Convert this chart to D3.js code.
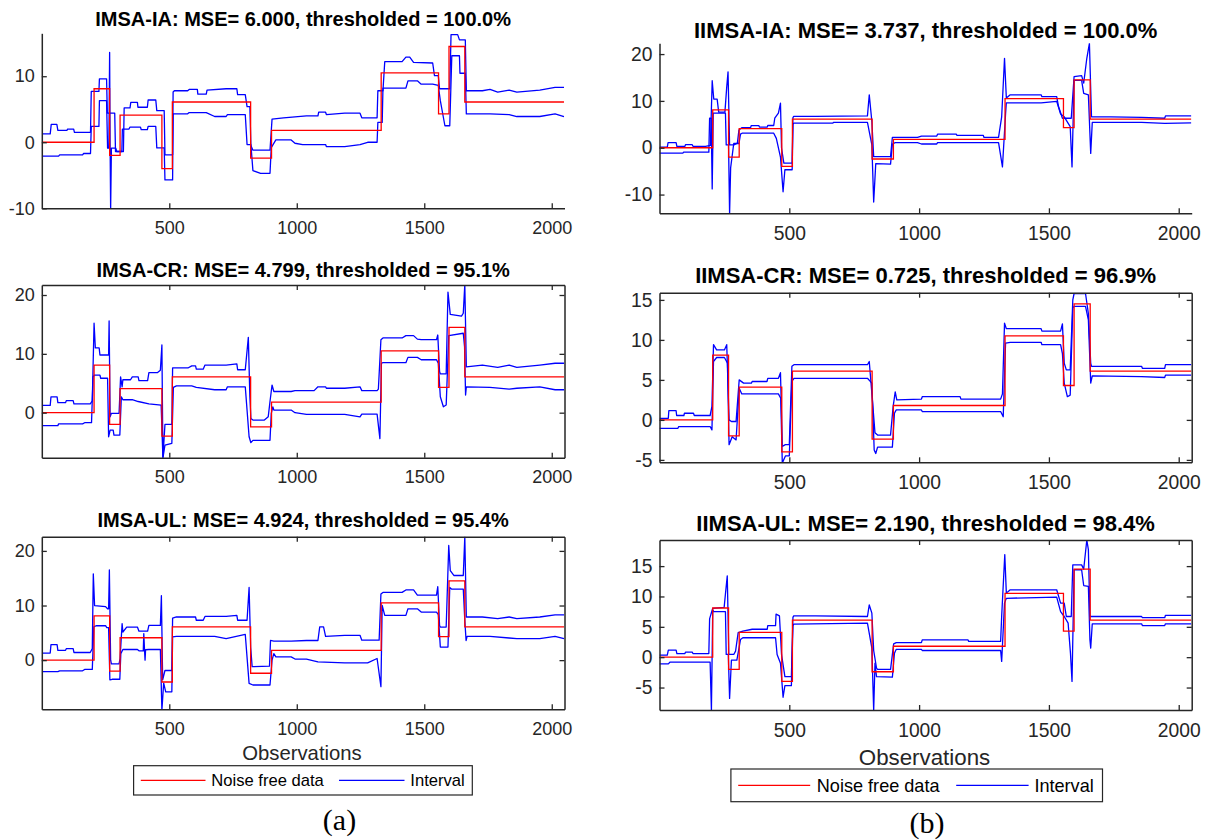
<!DOCTYPE html>
<html lang="en">
<head>
<meta charset="UTF-8">
<title>IMSA / IIMSA interval estimates</title>
<style>
html,body{margin:0;width:1207px;height:840px;overflow:hidden;background:#fff;}
svg{display:block;font-family:"Liberation Sans",Arial,Helvetica,sans-serif;}
</style>
</head>
<body>
<svg width="1207" height="840"></svg>
<script src="https://d3js.org/d3.v7.min.js"></script>
<script>
// ---- data ----
const obsTicks=[500,1000,1500,2000];
const obsRange=[0,2050];

// noise free blocks signal: start of each level and its value
const stepStarts=[0,205,266,307,471,512,819,901,1331,1556,1597,1659];
const stepLevels=[0,8.1,-2.0,4.1,-4.0,6.1,-2.4,1.8,10.5,4.3,14.5,6.1];
const stepEnd=2048;

const titles=[
  "IMSA-IA: MSE= 6.000, thresholded = 100.0%",
  "IMSA-CR: MSE= 4.799, thresholded = 95.1%",
  "IMSA-UL: MSE= 4.924, thresholded = 95.4%",
  "IIMSA-IA: MSE= 3.737, thresholded = 100.0%",
  "IIMSA-CR: MSE= 0.725, thresholded = 96.9%",
  "IIMSA-UL: MSE= 2.190, thresholded = 98.4%"
];
const yLimits=[[-10,16.5],[-7.65,21.7],[-9,22.6],[-14,22.3],[-5.3,15.9],[-8.7,19.3]];
const yTickSets=[[-10,0,10],[0,10,20],[0,10,20],[-10,0,10,20],[-5,0,5,10,15],[-5,0,5,10,15]];
const legendLabels=["Noise free data","Interval"];
const panelLabels=["(a)","(b)"];

// interval bounds, [observation, value]
const imsaIA_upper=[[0,1.26],[33,1.26],[37,2.7],[59,2.7],[63,1.8],[99,1.8],[101,2.0],[125,2.0],[128,1.5],[191,1.5],[194,7.7],[224,7.7],[226,9.6],[254,9.6],[257,4.4],[286,4.4],[289,-1.4],[320,-1.4],[323,5.2],[346,5.2],[349,6.05],[375,6.05],[377,5.3],[414,5.3],[417,6.4],[447,6.4],[451,4.8],[480,4.8],[483,-1.9],[513,-1.9],[515,7.6],[520,7.8],[572,7.8],[578,8.0],[610,8.0],[612,7.3],[645,7.3],[648,7.9],[723,8.1],[765,8.1],[768,7.2],[798,7.2],[805,5.4],[816,5.4],[820,-0.5],[828,-1.2],[895,-1.2],[903,3.5],[948,3.7],[1038,4.0],[1083,4.0],[1086,4.55],[1113,4.55],[1116,4.2],[1188,4.4],[1248,4.4],[1255,3.7],[1315,3.7],[1318,7.8],[1338,7.8],[1345,12.2],[1413,12.2],[1428,12.9],[1443,12.9],[1458,12.1],[1533,12.0],[1540,10.1],[1555,10.1],[1560,8.1],[1600,8.1],[1605,16.3],[1631,16.3],[1638,15.5],[1661,15.5],[1665,7.8],[1728,7.8],[1758,8.0],[1788,7.6],[1833,7.9],[1863,7.6],[1953,7.9],[2013,8.3],[2048,8.3]];
const imsaIA_lower=[[0,-2.1],[66,-2.1],[70,-1.9],[160,-1.9],[164,-1.7],[191,-1.7],[194,2.4],[224,2.4],[226,6.3],[254,6.3],[258,-0.9],[263,-0.9],[266,13.6],[268,-0.9],[270,-10.2],[273,-0.9],[290,-0.9],[294,-1.4],[314,-1.4],[316,2.0],[342,2.0],[346,2.3],[387,2.3],[390,1.9],[414,1.9],[417,2.4],[447,2.4],[451,-0.86],[480,-0.86],[483,-5.7],[513,-5.7],[515,4.3],[572,4.3],[578,4.5],[645,4.5],[678,3.9],[723,3.9],[728,4.2],[798,4.2],[805,-0.35],[820,-0.35],[828,-4.3],[858,-4.7],[895,-4.7],[900,-0.8],[918,0.35],[978,0.35],[993,-0.15],[1023,-0.35],[1113,-0.35],[1116,-0.65],[1188,-0.65],[1248,-0.35],[1278,0.0],[1315,0.0],[1318,3.0],[1335,3.0],[1338,8.2],[1428,8.2],[1436,9.3],[1473,9.3],[1488,8.8],[1533,8.8],[1555,8.6],[1563,6.3],[1581,2.5],[1600,2.5],[1608,13.1],[1638,13.1],[1640,10.45],[1661,10.45],[1665,4.3],[1758,4.3],[1833,4.2],[1863,3.9],[1953,3.9],[2013,4.3],[2048,3.9]];

const imsaCR_upper=[[0,1.25],[33,1.25],[36,2.7],[60,2.7],[63,1.7],[93,1.7],[96,2.05],[123,2.05],[126,1.5],[190,1.5],[198,2.0],[205,15.2],[210,11.0],[225,11.0],[228,9.8],[262,9.8],[264,15.6],[268,-0.7],[273,-0.1],[303,-0.1],[309,6.1],[315,4.4],[318,5.6],[348,5.6],[355,6.1],[378,6.1],[381,5.45],[415,5.45],[420,6.8],[453,6.8],[465,7.2],[471,11.5],[475,-7.7],[483,-2.0],[510,-2.0],[513,7.6],[573,7.6],[588,7.95],[603,7.95],[606,7.4],[633,7.4],[640,8.1],[723,8.1],[765,8.3],[768,7.3],[798,7.3],[810,12.8],[816,2.7],[820,-1.0],[828,-1.25],[873,-1.25],[888,-0.7],[895,1.9],[903,4.7],[910,3.6],[978,3.6],[993,3.75],[1068,3.75],[1083,4.4],[1113,4.4],[1116,4.15],[1188,4.15],[1248,4.4],[1255,3.75],[1315,3.75],[1320,4.0],[1330,12.4],[1338,12.7],[1413,12.7],[1428,13.1],[1458,13.1],[1473,12.5],[1488,12.4],[1548,12.4],[1553,13.2],[1560,7.0],[1563,6.6],[1586,6.6],[1593,20.5],[1602,16.7],[1646,16.4],[1653,16.9],[1659,21.8],[1665,7.8],[1728,8.1],[1788,7.7],[1833,8.1],[1863,7.7],[1953,8.1],[2013,8.4],[2048,8.4]];
const imsaCR_lower=[[0,-2.2],[63,-2.2],[66,-1.9],[160,-1.9],[168,-1.7],[195,-1.7],[201,6.1],[207,6.4],[228,6.4],[231,5.85],[258,5.85],[262,-4.1],[268,-2.95],[280,-2.95],[283,-3.8],[306,-3.8],[312,2.7],[318,2.2],[355,2.2],[378,1.9],[420,1.5],[468,1.3],[475,-7.7],[483,-5.5],[510,-5.2],[516,4.3],[528,4.55],[588,4.55],[606,4.3],[678,3.9],[723,3.9],[728,4.4],[798,4.4],[813,-4.1],[820,-5.1],[828,-4.7],[895,-4.7],[900,-0.1],[906,1.0],[910,0.45],[978,0.45],[993,0.0],[1038,-0.3],[1188,-0.3],[1248,-0.7],[1255,-0.25],[1315,-0.25],[1326,-4.4],[1332,8.4],[1338,8.5],[1428,8.5],[1436,9.4],[1473,9.4],[1488,9.0],[1548,9.0],[1555,8.4],[1563,2.7],[1575,1.0],[1586,1.3],[1596,13.1],[1653,13.5],[1658,11.2],[1662,3.0],[1665,4.4],[1758,4.3],[1833,4.0],[1863,4.15],[1953,4.4],[2013,3.9],[2048,3.9]];

const imsaUL_upper=[[0,1.3],[33,1.3],[36,2.85],[60,2.85],[63,1.8],[93,1.8],[96,2.1],[123,2.1],[126,1.4],[190,1.4],[198,2.1],[202,15.8],[207,10.0],[250,9.8],[258,9.4],[262,9.4],[265,16.5],[270,0.0],[273,-0.7],[303,-0.7],[307,0.3],[315,6.7],[318,5.15],[333,6.05],[375,6.05],[381,5.3],[415,5.3],[420,6.35],[465,6.35],[469,11.8],[474,-3.6],[483,-1.9],[510,-1.9],[513,7.7],[528,7.9],[603,7.9],[606,7.3],[633,7.3],[640,8.0],[723,8.0],[765,8.2],[768,7.3],[805,7.3],[813,13.3],[819,2.4],[825,-1.2],[893,-1.1],[897,3.6],[910,3.5],[978,3.5],[1038,3.6],[1083,3.6],[1090,6.1],[1105,6.1],[1113,4.35],[1188,4.55],[1248,4.55],[1255,3.65],[1323,3.65],[1330,12.1],[1338,12.4],[1413,12.4],[1428,12.85],[1458,12.85],[1473,11.9],[1548,11.9],[1553,13.45],[1560,6.35],[1563,6.05],[1586,6.05],[1596,21.0],[1602,16.4],[1616,15.5],[1653,15.5],[1659,22.6],[1665,7.9],[1728,7.9],[1788,7.6],[1833,7.9],[1863,7.6],[1953,7.9],[2013,8.3],[2048,8.3]];
const imsaUL_lower=[[0,-2.1],[63,-2.1],[70,-1.95],[160,-1.95],[168,-1.7],[198,-1.7],[204,6.1],[213,6.3],[250,6.3],[255,5.95],[262,5.95],[267,-3.6],[276,-3.5],[306,-3.5],[310,1.2],[318,1.95],[375,1.95],[381,1.7],[398,1.7],[400,4.85],[403,1.7],[405,0.0],[407,1.9],[420,1.95],[465,1.95],[471,-9.2],[478,-4.2],[486,-5.8],[510,-5.8],[513,4.25],[528,4.35],[678,4.35],[723,3.95],[798,4.7],[813,-4.25],[828,-4.55],[895,-4.55],[903,0.0],[910,1.2],[918,0.6],[978,0.6],[993,0.2],[1038,0.2],[1083,-0.3],[1188,-0.5],[1278,-0.5],[1315,0.3],[1330,-4.85],[1335,10.0],[1345,8.2],[1428,8.2],[1436,9.4],[1473,9.4],[1488,8.8],[1548,8.8],[1555,8.35],[1563,2.4],[1593,2.4],[1600,13.3],[1608,13.0],[1653,13.0],[1659,7.3],[1664,3.6],[1668,4.35],[1758,4.35],[1833,4.05],[1863,3.95],[1953,3.95],[2013,4.35],[2048,3.95]];

const iimsaIA_upper=[[0,0.15],[30,0.15],[33,1.1],[64,1.1],[67,0.3],[98,0.3],[100,0.65],[126,0.65],[129,0.3],[177,0.3],[196,0.5],[203,14.3],[209,10.4],[222,10.4],[228,7.6],[252,7.6],[259,13.0],[264,16.2],[270,0.6],[286,0.6],[300,1.0],[306,3.8],[318,4.3],[351,4.3],[353,4.7],[383,4.7],[385,4.4],[415,4.4],[417,4.75],[440,4.75],[444,6.3],[458,7.4],[466,9.5],[470,0.0],[479,-3.3],[511,-3.3],[514,6.45],[517,6.7],[601,6.7],[801,6.8],[808,11.3],[818,5.6],[825,-1.9],[890,-1.9],[897,2.2],[994,2.2],[1009,2.5],[1068,2.5],[1071,2.9],[1143,2.9],[1146,2.65],[1247,2.65],[1250,2.2],[1306,2.2],[1318,6.6],[1329,19.1],[1336,10.6],[1351,11.3],[1470,11.3],[1473,10.9],[1530,10.9],[1537,8.8],[1552,6.3],[1586,6.3],[1597,15.2],[1626,15.4],[1634,13.8],[1646,19.1],[1656,22.3],[1664,6.6],[1738,6.6],[1857,6.5],[1946,6.3],[1949,6.8],[2048,6.8]];
const iimsaIA_lower=[[0,-1.15],[90,-1.15],[93,-0.95],[190,-0.95],[193,6.3],[199,6.3],[203,-8.8],[207,7.4],[254,7.4],[257,0.6],[266,0.6],[270,-14.1],[274,-4.3],[286,0.9],[306,0.9],[312,2.9],[318,3.1],[440,3.1],[450,2.0],[466,-2.0],[476,-9.4],[483,-4.7],[511,-4.7],[514,5.0],[517,5.25],[667,5.25],[670,5.4],[801,5.4],[818,0.6],[825,-11.6],[833,-3.4],[890,-3.5],[897,0.8],[908,1.1],[994,1.1],[1009,0.8],[1068,0.8],[1071,1.1],[1306,1.1],[1321,-4.1],[1333,7.2],[1336,9.6],[1470,9.6],[1530,9.9],[1545,7.2],[1559,6.6],[1582,4.5],[1589,-4.1],[1597,14.4],[1626,14.4],[1634,11.6],[1652,11.3],[1661,-1.2],[1667,5.4],[1857,5.4],[1946,5.2],[2048,5.3]];

const iimsaCR_upper=[[0,0.2],[34,0.2],[36,1.15],[64,1.15],[66,0.55],[94,0.55],[96,0.83],[131,0.83],[134,0.55],[195,0.55],[202,1.7],[208,9.4],[220,8.75],[250,8.75],[259,9.4],[268,0.0],[277,-0.2],[295,-0.2],[307,5.0],[324,4.6],[354,4.6],[357,4.8],[414,4.8],[417,5.2],[458,5.2],[466,5.9],[473,-3.3],[485,-3.1],[500,-3.1],[510,6.7],[518,6.9],[801,6.9],[808,7.3],[821,2.1],[830,-1.6],[840,-1.9],[890,-1.9],[900,1.7],[908,3.5],[914,2.5],[1009,2.6],[1012,2.9],[1158,2.9],[1161,2.6],[1314,2.6],[1321,3.25],[1329,12.1],[1336,11.4],[1470,11.4],[1473,11.1],[1545,11.1],[1552,12.0],[1559,7.1],[1567,6.25],[1582,6.25],[1592,15.0],[1597,15.8],[1641,15.8],[1652,13.3],[1661,7.1],[1664,6.7],[1857,6.7],[1860,6.45],[1946,6.45],[1949,6.9],[2048,6.9]];
const iimsaCR_lower=[[0,-1.05],[71,-1.05],[74,-0.83],[195,-0.83],[202,-1.25],[208,7.3],[220,7.8],[250,7.8],[262,7.1],[268,-3.1],[280,-2.1],[295,-2.5],[307,3.95],[317,3.25],[458,3.25],[467,2.7],[473,-5.4],[485,-4.5],[500,-4.5],[510,4.8],[518,5.2],[801,5.2],[818,4.6],[827,-3.75],[833,-4.2],[840,-3.4],[897,-3.4],[905,0.83],[912,1.25],[1009,1.25],[1012,1.04],[1314,1.04],[1324,0.4],[1333,9.6],[1351,9.7],[1470,9.7],[1473,9.4],[1545,9.4],[1552,8.3],[1559,4.6],[1571,2.9],[1582,3.1],[1592,14.0],[1597,14.2],[1641,14.2],[1652,12.5],[1661,4.6],[1667,5.5],[1857,5.4],[1946,5.3],[1949,5.6],[2048,5.6]];

const iimsaUL_upper=[[0,0.33],[30,0.33],[34,1.17],[64,1.17],[67,0.6],[98,0.6],[100,0.83],[126,0.83],[129,0.6],[190,0.6],[193,6.3],[205,8.05],[249,8.2],[254,10.4],[261,13.4],[267,0.45],[286,0.45],[293,1.0],[303,4.05],[321,4.3],[357,4.6],[415,4.6],[417,5.2],[447,5.2],[449,7.1],[462,6.8],[470,0.45],[483,-3.2],[508,-3.2],[514,6.55],[517,6.8],[601,6.8],[801,6.7],[808,8.6],[818,7.25],[825,1.1],[836,-1.8],[840,-2.0],[890,-2.0],[902,2.2],[912,2.4],[1009,2.4],[1012,2.86],[1188,2.86],[1191,2.6],[1314,2.6],[1318,6.7],[1330,16.9],[1336,10.55],[1351,11.1],[1530,11.1],[1545,8.9],[1559,8.9],[1567,6.7],[1586,6.7],[1592,15.2],[1626,15.2],[1634,14.5],[1646,19.3],[1652,17.7],[1658,6.7],[1857,6.7],[1860,6.5],[1946,6.5],[1949,6.9],[2048,6.9]];
const iimsaUL_lower=[[0,-1.1],[34,-1.1],[40,-0.83],[195,-0.83],[200,-8.8],[205,7.8],[209,7.5],[254,7.5],[257,0.45],[265,0.45],[270,-6.8],[277,-0.5],[298,-0.5],[312,2.9],[321,3.2],[447,3.2],[453,0.45],[466,-1.0],[476,-6.6],[483,-4.7],[508,-4.7],[514,5.2],[517,5.45],[801,5.6],[818,1.5],[825,-8.8],[830,-1.0],[836,-3.2],[897,-3.3],[905,0.66],[912,1.3],[1009,1.3],[1012,1.1],[1314,1.1],[1318,-0.7],[1329,8.9],[1336,9.7],[1530,9.9],[1545,7.5],[1559,6.7],[1574,5.6],[1583,0.66],[1589,-4.0],[1597,14.4],[1626,14.4],[1634,11.8],[1652,11.65],[1658,2.9],[1661,1.5],[1667,5.5],[1857,5.5],[1860,5.2],[1946,5.2],[1949,5.5],[2048,5.5]];

const uppers=[imsaIA_upper,imsaCR_upper,imsaUL_upper,iimsaIA_upper,iimsaCR_upper,iimsaUL_upper];
const lowers=[imsaIA_lower,imsaCR_lower,imsaUL_lower,iimsaIA_lower,iimsaCR_lower,iimsaUL_lower];

// ---- layout ----
const AXIS="#262626", RED="#ff0000", BLUE="#0000ff";
const colL={x0:41.8,x1:564.5,tf:20,af:18,pad:12.5,xl:302,xly:760,lf:20.3,leg:{x0:133.6,x1:472.3,y0:765.7,y1:795,r0:140.8,r1:205.5,rt:211.3,b0:339,b1:404.5,bt:410.3,fs:16.6},lab:{x:339.5,y:830}};
const colR={x0:659.5,x1:1191.7,tf:22,af:19.3,pad:13,xl:924.5,xly:765,lf:22.3,leg:{x0:730.9,x1:1102.5,y0:769,y1:801.7,r0:738.2,r1:810.2,rt:816.8,b0:956.2,b1:1028.6,bt:1034.4,fs:18.1},lab:{x:927,y:833}};
const rows=[
  {col:colL,y0:33.3,y1:208.3,box:false,ty:25.5},
  {col:colL,y0:285,y1:457.7,box:true,ty:277},
  {col:colL,y0:536.7,y1:709.3,box:true,ty:526.5},
  {col:colR,y0:43.3,y1:213.3,box:false,ty:38},
  {col:colR,y0:292.7,y1:462.3,box:true,ty:283},
  {col:colR,y0:540,y1:710,box:true,ty:530.7}
];

const svg=d3.select("svg");
const defs=svg.append("defs");
const plain=d=>String(d);   // MATLAB style labels: 1000, -10

const stepPoints=stepStarts.map((s,i)=>[s,stepLevels[i]]).concat([[stepEnd,stepLevels[stepLevels.length-1]]]);

function styleAxis(sel,fs){
  sel.attr("font-family",null).attr("font-size",null);
  sel.select(".domain").attr("stroke",AXIS).attr("stroke-width",1.5);
  sel.selectAll(".tick line").attr("stroke",AXIS).attr("stroke-width",1.3);
  sel.selectAll(".tick text").attr("fill",AXIS).style("font-size",fs+"px");
}

rows.forEach((r,i)=>{
  const c=r.col;
  const x=d3.scaleLinear().domain(obsRange).range([c.x0,c.x1]);
  const y=d3.scaleLinear().domain(yLimits[i]).range([r.y1,r.y0]);
  const g=svg.append("g").attr("class","panel");

  defs.append("clipPath").attr("id","clip"+i).append("rect")
    .attr("x",c.x0).attr("y",r.y0).attr("width",c.x1-c.x0).attr("height",r.y1-r.y0);

  const plot=g.append("g").attr("clip-path",`url(#clip${i})`);
  const line=d3.line().x(d=>x(d[0])).y(d=>y(d[1]));
  [uppers[i],lowers[i]].forEach(s=>{
    plot.append("path").datum(s).attr("d",line)
      .attr("fill","none").attr("stroke",BLUE).attr("stroke-width",1.3).attr("stroke-linejoin","round");
  });
  plot.append("path").datum(stepPoints)
    .attr("d",d3.line().curve(d3.curveStepAfter).x(d=>x(d[0])).y(d=>y(d[1])))
    .attr("fill","none").attr("stroke",RED).attr("stroke-width",1.3);

  // axes, ticks pointing inward as in MATLAB
  g.append("g").attr("transform",`translate(0,${r.y1})`)
    .call(d3.axisBottom(x).tickValues(obsTicks).tickFormat(plain).tickSizeInner(-5).tickSizeOuter(0).tickPadding(c.pad))
    .call(s=>styleAxis(s,c.af));
  g.append("g").attr("transform",`translate(${c.x0},0)`)
    .call(d3.axisLeft(y).tickValues(yTickSets[i]).tickFormat(plain).tickSizeInner(-5).tickSizeOuter(0).tickPadding(7))
    .call(s=>styleAxis(s,c.af));
  if(r.box){
    g.append("g").attr("transform",`translate(0,${r.y0})`)
      .call(d3.axisTop(x).tickValues(obsTicks).tickSizeInner(-5).tickSizeOuter(0).tickFormat(""))
      .call(s=>styleAxis(s,c.af));
    g.append("g").attr("transform",`translate(${c.x1},0)`)
      .call(d3.axisRight(y).tickValues(yTickSets[i]).tickSizeInner(-5).tickSizeOuter(0).tickFormat(""))
      .call(s=>styleAxis(s,c.af));
  }

  g.append("text").attr("x",(c.x0+c.x1)/2).attr("y",r.ty)
    .attr("text-anchor","middle").attr("font-weight","bold").attr("fill","#000")
    .style("font-size",c.tf+"px").text(titles[i]);
});

// x label, legend and panel letter for each column
[colL,colR].forEach((c,k)=>{
  svg.append("text").attr("x",c.xl).attr("y",c.xly).attr("text-anchor","middle")
    .attr("fill",AXIS).style("font-size",c.lf+"px").text("Observations");

  const L=c.leg, my=(L.y0+L.y1)/2;
  const lg=svg.append("g").attr("class","legend");
  lg.append("rect").attr("x",L.x0).attr("y",L.y0).attr("width",L.x1-L.x0).attr("height",L.y1-L.y0)
    .attr("fill","#fff").attr("stroke",AXIS).attr("stroke-width",1.2);
  lg.append("line").attr("x1",L.r0).attr("x2",L.r1).attr("y1",my).attr("y2",my).attr("stroke",RED).attr("stroke-width",1.3);
  lg.append("line").attr("x1",L.b0).attr("x2",L.b1).attr("y1",my).attr("y2",my).attr("stroke",BLUE).attr("stroke-width",1.3);
  lg.append("text").attr("x",L.rt).attr("y",my).attr("dy","0.35em").attr("fill","#000").style("font-size",L.fs+"px").text(legendLabels[0]);
  lg.append("text").attr("x",L.bt).attr("y",my).attr("dy","0.35em").attr("fill","#000").style("font-size",L.fs+"px").text(legendLabels[1]);

  svg.append("text").attr("x",c.lab.x).attr("y",c.lab.y).attr("text-anchor","middle")
    .attr("font-family","'Liberation Serif','Times New Roman',serif").attr("fill","#000")
    .style("font-size","30px").text(panelLabels[k]);
});
</script>
</body>
</html>
